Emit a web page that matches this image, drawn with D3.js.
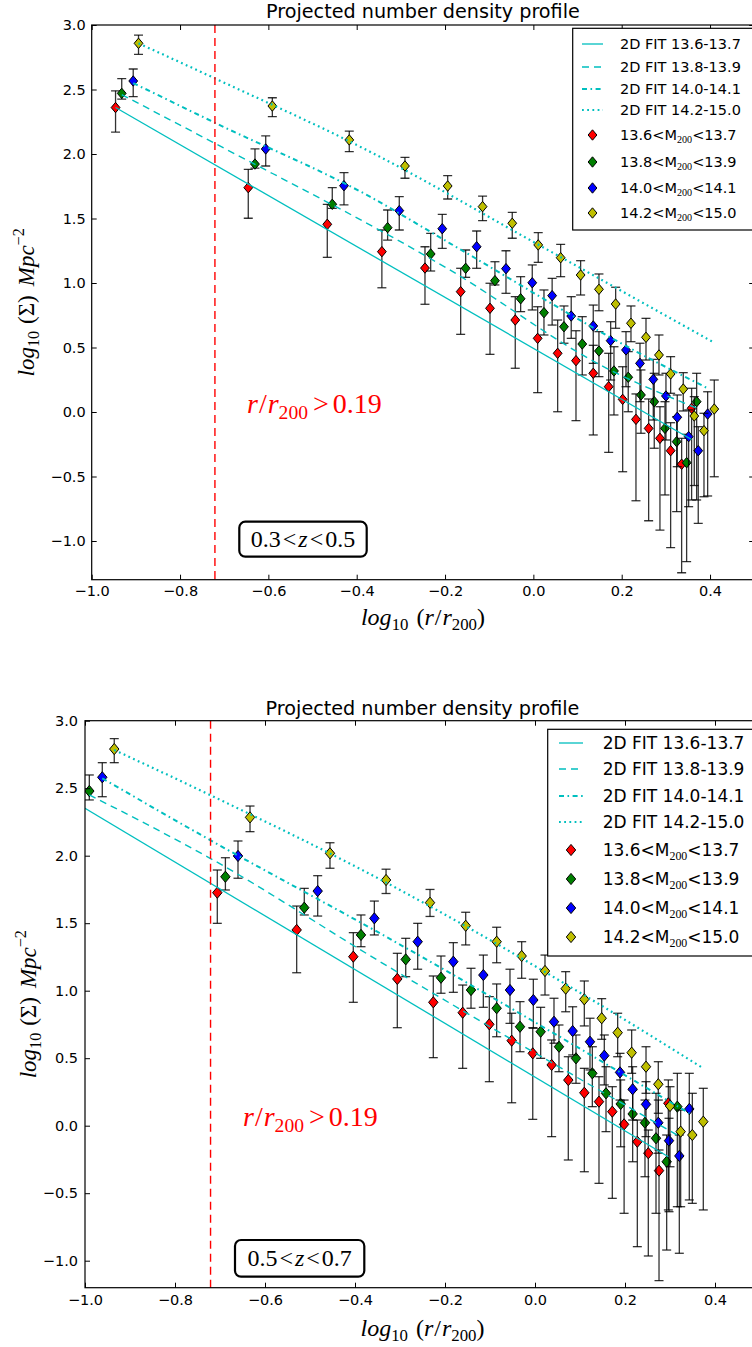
<!DOCTYPE html>
<html><head><meta charset="utf-8">
<script src="https://cdn.jsdelivr.net/npm/d3@7"></script>
<style>body{margin:0;background:#fff}</style>
</head><body>
<svg id="c" width="752" height="1347" xmlns="http://www.w3.org/2000/svg"></svg>
<script>
// ---------------- DATA ----------------
const seriesNames = ["13.6<M200<13.7","13.8<M200<13.9","14.0<M200<14.1","14.2<M200<15.0"];
const massLo = ["13.6","13.8","14.0","14.2"];
const massHi = ["13.7","13.9","14.1","15.0"];
const fitLabels = ["2D FIT 13.6-13.7","2D FIT 13.8-13.9","2D FIT 14.0-14.1","2D FIT 14.2-15.0"];
const xTicks = [-1.0,-0.8,-0.6,-0.4,-0.2,0.0,0.2,0.4];
const yTicks = [-1.0,-0.5,0.0,0.5,1.0,1.5,2.0,2.5,3.0];
const rCut = -0.721; // log10(0.19)

// Panel 1: 0.3<z<0.5
const redTopX = [-0.946,-0.6455,-0.4666,-0.343,-0.2454,-0.1646,-0.0982,-0.041,0.0097,0.055,0.0965,0.1356,0.1705,0.2022,0.2323,0.261,0.2866,0.3108,0.3357,0.3583];
const redTopY = [2.36,1.739,1.455,1.243,1.116,0.933,0.804,0.713,0.571,0.455,0.398,0.300,0.196,0.098,-0.057,-0.127,-0.204,-0.300,-0.405,0.029];
const redTopHi = [2.49,1.881,1.610,1.411,1.281,1.114,0.998,0.894,0.816,0.713,0.630,0.517,0.455,0.351,0.140,0.101,0.041,-0.083,-0.204,0.184];
const redTopLo = [2.17,1.502,1.199,0.963,0.835,0.602,0.447,0.339,0.150,0.002,-0.067,-0.178,-0.313,-0.463,-0.688,-0.843,-0.915,-1.052,-1.246,-0.682];

const greenTopX = [-0.932,-0.6303,-0.4553,-0.330,-0.2325,-0.1533,-0.087,-0.0288,0.024,0.0693,0.1107,0.1485,0.1825,0.2148,0.2436,0.2737,0.298,0.3244,0.347,0.3697];
const greenTopY = [2.47,1.922,1.610,1.429,1.225,1.114,1.018,0.878,0.770,0.661,0.527,0.473,0.318,0.269,0.132,0.080,-0.127,-0.230,-0.393,0.080];
const greenTopHi = [2.584,2.039,1.739,1.566,1.385,1.256,1.165,1.049,0.946,0.822,0.739,0.623,0.506,0.468,0.326,0.300,0.080,-0.036,-0.173,0.300];
const greenTopLo = [2.426,1.89,1.579,1.333,1.093,1.044,0.985,0.778,0.597,0.533,0.287,0.274,-0.023,0.002,-0.165,-0.281,-0.643,-0.773,-1.160,-0.682];

const blueTopX = [-0.906,-0.606,-0.4288,-0.3036,-0.2063,-0.1284,-0.062,-0.0025,0.0425,0.0857,0.1356,0.175,0.2097,0.2414,0.2715,0.3002,0.3258,0.3516,0.3733,0.3946];
const blueTopY = [2.566,2.039,1.754,1.561,1.421,1.281,1.111,1.002,0.902,0.744,0.667,0.553,0.481,0.377,0.253,0.124,-0.041,-0.191,-0.300,-0.016];
const blueTopHi = [2.659,2.140,1.855,1.669,1.532,1.403,1.250,1.140,1.036,0.894,0.829,0.700,0.623,0.533,0.408,0.300,0.132,0.016,-0.114,0.157];
const blueTopLo = [2.444,1.907,1.605,1.411,1.269,1.114,0.920,0.791,0.674,0.571,0.377,0.248,0.196,0.080,-0.062,-0.217,-0.424,-0.734,-0.863,-0.651];

const yellowTopX = [-0.894,-0.591,-0.4168,-0.2907,-0.194,-0.115,-0.0478,0.011,0.0618,0.107,0.1485,0.1863,0.221,0.255,0.2844,0.3108,0.3394,0.3643,0.3863,0.4096];
const yellowTopY = [2.858,2.372,2.109,1.907,1.752,1.592,1.463,1.295,1.196,1.062,0.951,0.837,0.688,0.579,0.442,0.295,0.178,-0.031,-0.145,0.023];
const yellowTopHi = [2.922,2.436,2.178,1.974,1.832,1.674,1.548,1.390,1.300,1.173,1.070,0.967,0.822,0.726,0.597,0.429,0.305,0.119,-0.010,0.248];
const yellowTopLo = [2.773,2.289,2.018,1.812,1.651,1.483,1.347,1.160,1.049,0.907,0.785,0.649,0.545,0.403,0.287,0.145,0.008,-0.57,-0.657,-0.502];

const fitTopSolidX = [-0.946,0.3583];
const fitTopSolidY = [2.36,-0.213];
const fitTopDashX = [-0.932,-0.7215,-0.189,0.166,0.3697];
const fitTopDashY = [2.46,2.083,1.101,0.339,0.03];
const fitTopDashDotX = [-0.906,-0.7215,-0.37,-0.189,0.234,0.3946];
const fitTopDashDotY = [2.55,2.243,1.669,1.308,0.467,0.184];
const fitTopDotX = [-0.894,-0.7215,-0.370,0.0097,0.4096];
const fitTopDotY = [2.858,2.587,2.018,1.30,0.537];

// Panel 2: 0.5<z<0.7
const redBotX = [-0.706,-0.5296,-0.4038,-0.306,-0.226,-0.1607,-0.1015,-0.0518,-0.005,0.037,0.074,0.1096,0.1422,0.1718,0.198,0.2274,0.2518,0.2756,0.2963];
const redBotY = [1.726,1.450,1.252,1.087,0.914,0.837,0.751,0.630,0.536,0.450,0.338,0.244,0.178,0.104,0.010,-0.119,-0.204,-0.333,0.166];
const redBotHi = [1.894,1.627,1.430,1.277,1.109,1.042,0.956,0.833,0.726,0.635,0.511,0.425,0.363,0.289,0.190,0.042,-0.032,-0.180,0.339];
const redBotLo = [1.499,1.133,0.914,0.726,0.504,0.425,0.326,0.170,0.047,-0.081,-0.254,-0.341,-0.427,-0.538,-0.649,-0.896,-0.965,-1.148,-0.624];

const greenBotX = [-0.9904,-0.688,-0.5127,-0.3867,-0.2873,-0.2089,-0.1422,-0.0852,-0.0333,0.0126,0.0533,0.0911,0.1274,0.1578,0.1904,0.217,0.2444,0.2689,0.2926,0.3163];
const greenBotY = [2.479,1.844,1.615,1.413,1.232,1.096,1.005,0.870,0.733,0.696,0.585,0.499,0.388,0.240,0.161,0.087,0.022,-0.093,-0.267,0.141];
const greenBotHi = [2.598,1.985,1.758,1.561,1.388,1.257,1.166,1.050,0.919,0.877,0.746,0.672,0.585,0.437,0.339,0.264,0.190,0.240,-0.069,0.388];
const greenBotLo = [2.413,1.746,1.561,1.326,1.104,0.981,0.870,0.659,0.548,0.499,0.400,0.314,0.141,-0.044,-0.156,-0.267,-0.378,-0.649,-0.921,-0.600];

const blueBotX = [-0.9616,-0.66,-0.4829,-0.357,-0.2607,-0.1815,-0.1148,-0.0556,-0.0037,0.0422,0.0837,0.1222,0.154,0.1889,0.217,0.2467,0.274,0.2978,0.3207,0.3429];
const blueBotY = [2.581,1.998,1.738,1.536,1.363,1.215,1.116,1.005,0.931,0.770,0.701,0.622,0.519,0.395,0.270,0.158,0.022,-0.111,-0.224,0.124];
const blueBotHi = [2.689,2.109,1.852,1.664,1.499,1.356,1.264,1.159,1.085,0.944,0.881,0.796,0.672,0.536,0.437,0.326,0.190,0.055,-0.069,0.388];
const blueBotLo = [2.437,1.833,1.553,1.413,1.159,0.988,0.877,0.758,0.722,0.611,0.524,0.413,0.302,0.190,0.042,-0.081,-0.204,-0.637,-0.945,-0.550];

const yellowBotX = [-0.935,-0.6333,-0.4556,-0.331,-0.2333,-0.154,-0.0852,-0.0296,0.0222,0.0682,0.1096,0.1482,0.1837,0.2148,0.2467,0.274,0.3,0.3237,0.3496,0.374];
const yellowBotY = [2.790,2.284,2.018,1.82,1.652,1.481,1.363,1.257,1.146,1.015,0.936,0.796,0.689,0.541,0.437,0.307,0.146,-0.044,-0.069,0.030];
const yellowBotHi = [2.867,2.368,2.096,1.90,1.75,1.581,1.470,1.363,1.264,1.141,1.072,0.941,0.833,0.709,0.585,0.474,0.289,0.116,0.240,0.277];
const yellowBotLo = [2.689,2.178,1.907,1.72,1.55,1.339,1.207,1.092,0.968,0.844,0.739,0.640,0.511,0.388,0.240,0.092,-0.304,-0.600,-0.575,-0.624];

const fitBotSolidX = [-1.0,0.2963];
const fitBotSolidY = [2.351,-0.23];
const fitBotDashX = [-0.9904,-0.722,-0.3444,0.3163];
const fitBotDashY = [2.45,1.981,1.215,-0.07];
const fitBotDashDotX = [-0.9616,-0.722,-0.3444,0.3429];
const fitBotDashDotY = [2.573,2.116,1.425,0.092];
const fitBotDotX = [-0.935,-0.722,-0.3444,0.152,0.374];
const fitBotDotY = [2.783,2.45,1.825,0.881,0.425];

// ---------------- STYLE ----------------
const colors = ["#ff0000","#007f00","#0000ff","#bfbf00"];
const cyan = "#00bfbf";
const lineStyles = [
  {dash:null, w:1.3},
  {dash:"7,5", w:1.4},
  {dash:"5,3.5,1.6,3.5", w:2.0},
  {dash:"1.8,3.4", w:2.2}
];

const zip = (xs, ys, hi, lo) => xs.map((x,i)=>({x, y:ys[i], hi:hi?hi[i]:null, lo:lo?lo[i]:null}));

const panels = [
  {
    box:{x0:91.7, x1:754.2, y0:25, y1:579.7}, ydom:[-1.3,3.0],
    series:[zip(redTopX,redTopY,redTopHi,redTopLo), zip(greenTopX,greenTopY,greenTopHi,greenTopLo),
            zip(blueTopX,blueTopY,blueTopHi,blueTopLo), zip(yellowTopX,yellowTopY,yellowTopHi,yellowTopLo)],
    fits:[zip(fitTopSolidX,fitTopSolidY), zip(fitTopDashX,fitTopDashY), zip(fitTopDashDotX,fitTopDashDotY), zip(fitTopDotX,fitTopDotY)],
    mk:{w:4.4, h:5.2}, title:{y:17.5, fs:19.2},
    xlabY:625, ylabX:34, lab:{fs:23, xfs:24},
    xtickPad:6, ytickPad:6,
    legend:{x:572.7, y:28.3, w:180, h:201.7, h0:582, h1:603, tx:620, rows:[44,67,89,110,135,162,188,213], fs:14.5},
    note:{x:247, y:413, fs:28}, zbox:{x:239.3, y:521.7, w:127.4, h:35, lo:"0.3", hi:"0.5", fs:24}
  },
  {
    box:{x0:85, x1:760, y0:720.7, y1:1287.7}, ydom:[-1.2,3.0],
    series:[zip(redBotX,redBotY,redBotHi,redBotLo), zip(greenBotX,greenBotY,greenBotHi,greenBotLo),
            zip(blueBotX,blueBotY,blueBotHi,blueBotLo), zip(yellowBotX,yellowBotY,yellowBotHi,yellowBotLo)],
    fits:[zip(fitBotSolidX,fitBotSolidY), zip(fitBotDashX,fitBotDashY), zip(fitBotDashDotX,fitBotDashDotY), zip(fitBotDotX,fitBotDotY)],
    mk:{w:4.7, h:5.6}, title:{y:715, fs:19.2},
    xlabY:1336, ylabX:36, lab:{fs:23, xfs:24},
    xtickPad:7, ytickPad:7,
    legend:{x:547.7, y:729.3, w:215, h:226.7, h0:559, h1:583, tx:602.7, rows:[743,769,796,822,850,879,908,937], fs:17},
    note:{x:243, y:1126, fs:28}, zbox:{x:235, y:1240, w:129.3, h:36.7, lo:"0.5", hi:"0.7", fs:24}
  }
];

const svg = d3.select("#c");
svg.append("rect").attr("width",752).attr("height",1347).attr("fill","#fff");

const SANS = "'DejaVu Sans', sans-serif";
const SERIF = "'Liberation Serif', 'DejaVu Serif', serif";

function addParts(t, parts, fs){
  let shift = 0;
  parts.forEach(p=>{
    const ts = t.append("tspan").text(p.t);
    const target = p.sub ? fs*0.22 : (p.sup ? -fs*0.42 : 0);
    if (target - shift !== 0) ts.attr("dy", target - shift);
    shift = target;
    ts.attr("font-size", (p.sub||p.sup) ? fs*0.7 : fs);
    if (p.it) ts.attr("font-style","italic");
    if (p.dx) ts.attr("dx", p.dx);
    if (p.fam) ts.attr("font-family", p.fam);
  });
}

panels.forEach((P, pi)=>{
  const x = d3.scaleLinear().domain([-1.0,0.5]).range([P.box.x0,P.box.x1]);
  const y = d3.scaleLinear().domain(P.ydom).range([P.box.y1,P.box.y0]);
  const g = svg.append("g");
  const clipId = "clip"+pi;
  g.append("clipPath").attr("id",clipId).append("rect")
    .attr("x",P.box.x0).attr("y",P.box.y0).attr("width",P.box.x1-P.box.x0).attr("height",P.box.y1-P.box.y0);
  const plot = g.append("g").attr("clip-path",`url(#${clipId})`);

  // error bars + markers
  P.series.forEach((S, si)=>{
    const sg = plot.append("g");
    const eb = sg.selectAll("g.eb").data(S).join("g").attr("class","eb")
      .attr("stroke","#000").attr("stroke-opacity",0.8).attr("stroke-width",1.3).attr("fill","none");
    eb.append("line").attr("x1",d=>x(d.x)).attr("x2",d=>x(d.x)).attr("y1",d=>y(d.hi)).attr("y2",d=>y(d.lo));
    eb.append("line").attr("x1",d=>x(d.x)-4.5).attr("x2",d=>x(d.x)+4.5).attr("y1",d=>y(d.hi)).attr("y2",d=>y(d.hi));
    eb.append("line").attr("x1",d=>x(d.x)-4.5).attr("x2",d=>x(d.x)+4.5).attr("y1",d=>y(d.lo)).attr("y2",d=>y(d.lo));
    sg.selectAll("path.mk").data(S).join("path").attr("class","mk")
      .attr("d",d=>{const cx=x(d.x), cy=y(d.y); return `M${cx},${cy-P.mk.h}L${cx+P.mk.w},${cy}L${cx},${cy+P.mk.h}L${cx-P.mk.w},${cy}Z`;})
      .attr("fill",colors[si]).attr("stroke","#000").attr("stroke-width",1);
  });

  // fit lines
  const line = d3.line().x(d=>x(d.x)).y(d=>y(d.y)).curve(d3.curveMonotoneX);
  P.fits.forEach((F, fi)=>{
    plot.append("path").attr("d",line(F)).attr("fill","none").attr("stroke",cyan)
      .attr("stroke-width",lineStyles[fi].w).attr("stroke-dasharray",lineStyles[fi].dash);
  });

  // vertical cut line
  plot.append("line").attr("x1",x(rCut)).attr("x2",x(rCut)).attr("y1",P.box.y0).attr("y2",P.box.y1)
    .attr("stroke","#ff0000").attr("stroke-width",1.4).attr("stroke-dasharray","8,5");

  // axes
  const fmt = d3.format(".1f");
  const axB = g.append("g").attr("transform",`translate(0,${P.box.y1})`)
    .call(d3.axisBottom(x).tickValues(xTicks).tickSize(-5).tickSizeOuter(0).tickPadding(P.xtickPad).tickFormat(fmt));
  const axT = g.append("g").attr("transform",`translate(0,${P.box.y0})`)
    .call(d3.axisTop(x).tickValues(xTicks).tickSize(-5).tickSizeOuter(0).tickFormat(""));
  const axL = g.append("g").attr("transform",`translate(${P.box.x0},0)`)
    .call(d3.axisLeft(y).tickValues(yTicks).tickSize(-5).tickSizeOuter(0).tickPadding(P.ytickPad).tickFormat(fmt));
  const axR = g.append("g").attr("transform",`translate(${P.box.x1},0)`)
    .call(d3.axisRight(y).tickValues(yTicks).tickSize(-5).tickSizeOuter(0).tickFormat(""));
  [axB,axT,axL,axR].forEach(a=>{
    a.select(".domain").remove();
    a.selectAll(".tick line").attr("stroke","#000").attr("stroke-width",1);
    a.selectAll("text").attr("font-family",SANS).attr("font-size",14.5).attr("fill","#000");
  });
  g.append("rect").attr("x",P.box.x0).attr("y",P.box.y0).attr("width",P.box.x1-P.box.x0).attr("height",P.box.y1-P.box.y0)
    .attr("fill","none").attr("stroke","#000").attr("stroke-width",1.2);

  // title
  g.append("text").attr("x",(P.box.x0+P.box.x1)/2).attr("y",P.title.y).attr("text-anchor","middle")
    .attr("font-family",SANS).attr("font-size",P.title.fs).attr("fill","#000").text("Projected number density profile");

  // x label
  const xl = g.append("text").attr("x",(P.box.x0+P.box.x1)/2).attr("y",P.xlabY).attr("text-anchor","middle")
    .attr("font-family",SERIF).attr("fill","#000");
  addParts(xl,[{t:"log",it:true},{t:"10",sub:true},{t:"(",dx:8},{t:"r",it:true},{t:"/",dx:1},{t:"r",it:true,dx:1},{t:"200",sub:true},{t:")"}],P.lab.xfs);

  // y label
  const cy = (P.box.y0+P.box.y1)/2;
  const yl = g.append("text").attr("transform",`translate(${P.ylabX},${cy}) rotate(-90)`).attr("text-anchor","middle")
    .attr("font-family",SERIF).attr("fill","#000");
  addParts(yl,[{t:"log",it:true},{t:"10",sub:true},{t:"(Σ)",dx:7},{t:"Mpc",it:true,dx:9},{t:"−2",sup:true}],P.lab.fs);

  // red annotation
  const nt = g.append("text").attr("x",P.note.x).attr("y",P.note.y).attr("font-family",SERIF).attr("fill","#ff0000");
  addParts(nt,[{t:"r",it:true},{t:"/",dx:1},{t:"r",it:true,dx:1},{t:"200",sub:true},{t:">",dx:5},{t:"0.19",dx:4}],P.note.fs);

  // z box
  const zb = P.zbox;
  g.append("rect").attr("x",zb.x).attr("y",zb.y).attr("width",zb.w).attr("height",zb.h).attr("rx",6)
    .attr("fill","#fff").attr("stroke","#000").attr("stroke-width",2.2);
  const zt = g.append("text").attr("x",zb.x+zb.w/2).attr("y",zb.y+zb.h/2+zb.fs*0.33).attr("text-anchor","middle")
    .attr("font-family",SERIF).attr("fill","#000");
  addParts(zt,[{t:zb.lo},{t:"<",dx:2},{t:"z",it:true,dx:2},{t:"<",dx:2},{t:zb.hi,dx:2}],zb.fs);

  // legend
  const L = P.legend;
  const lg = g.append("g");
  lg.append("rect").attr("x",L.x).attr("y",L.y).attr("width",L.w).attr("height",L.h)
    .attr("fill","#fff").attr("stroke","#000").attr("stroke-width",1.2);
  fitLabels.forEach((lab, i)=>{
    const ry = L.rows[i];
    lg.append("line").attr("x1",L.h0).attr("x2",L.h1).attr("y1",ry).attr("y2",ry)
      .attr("stroke",cyan).attr("stroke-width",lineStyles[i].w).attr("stroke-dasharray",lineStyles[i].dash);
    lg.append("text").attr("x",L.tx).attr("y",ry+L.fs*0.36).attr("font-family",SANS).attr("font-size",L.fs)
      .attr("fill","#000").text(lab);
  });
  seriesNames.forEach((nm, i)=>{
    const ry = L.rows[4+i];
    const cx = (L.h0+L.h1)/2;
    lg.append("path").attr("d",`M${cx},${ry-P.mk.h}L${cx+P.mk.w},${ry}L${cx},${ry+P.mk.h}L${cx-P.mk.w},${ry}Z`)
      .attr("fill",colors[i]).attr("stroke","#000").attr("stroke-width",1);
    const t = lg.append("text").attr("x",L.tx).attr("y",ry+L.fs*0.36).attr("font-family",SANS).attr("fill","#000");
    addParts(t,[{t:massLo[i]+"<M"},{t:"200",sub:true,fam:SERIF},{t:"<"+massHi[i]}],L.fs);
  });
});
</script>
</body></html>
